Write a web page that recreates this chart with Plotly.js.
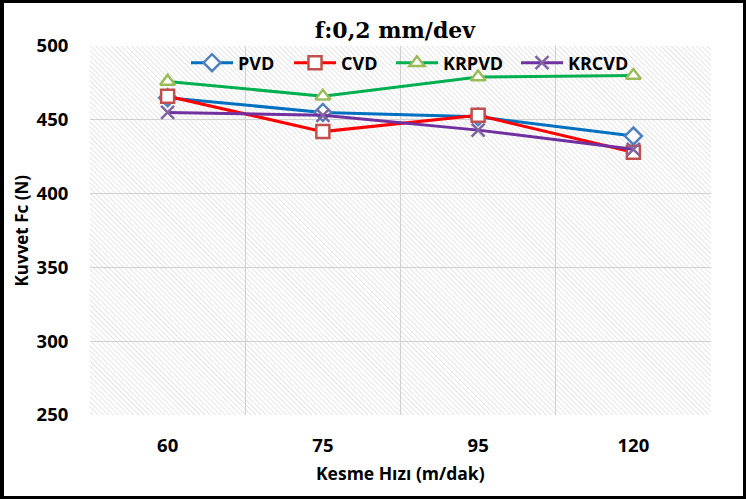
<!DOCTYPE html>
<html>
<head>
<meta charset="utf-8">
<script src="https://cdn.plot.ly/plotly-3.0.1.min.js"></script>
<style>
html,body{margin:0;padding:0;background:#fff;}
#wrap{position:relative;width:746px;height:499px;}
#chart{width:746px;height:499px;}
#frame{position:absolute;left:0;top:0;width:746px;height:499px;box-sizing:border-box;border:3px solid #000;border-left-width:4px;pointer-events:none;}
</style>
</head>
<body>
<div id="wrap"><div id="chart"></div><div id="frame"></div></div>
<script>
const categories = ['60', '75', '95', '120'];
const pvd   = [465, 455, 452, 439];
const cvd   = [466, 442, 453, 428];
const krpvd = [476, 466, 479, 480];
const krcvd = [455, 453, 443, 430];
const yTicks = [250, 300, 350, 400, 450, 500];

const hatchSvg = '<svg xmlns="http://www.w3.org/2000/svg" width="621" height="369" viewBox="0 0 621 369" preserveAspectRatio="none">' +
  '<defs><pattern id="h" patternUnits="userSpaceOnUse" width="3.6" height="3.6" patternTransform="rotate(-45)">' +
  '<line x1="0" y1="0" x2="0" y2="3.6" stroke="#d0d0d0" stroke-width="1.1"/></pattern></defs>' +
  '<rect width="621" height="369" fill="#ffffff"/><rect width="621" height="369" fill="url(#h)"/></svg>';
const hatchUri = 'data:image/svg+xml;charset=utf-8,' + encodeURIComponent(hatchSvg);

const sansFont = '"Open Sans", "Noto Sans", sans-serif';

function series(name, y, lineColor, symbol, markerColor, fillColor, legendId) {
  return {
    x: categories, y: y, name: name, type: 'scatter', mode: 'lines+markers', legend: legendId,
    line: {color: lineColor, width: 3},
    marker: {symbol: symbol, size: 13, color: fillColor, line: {color: markerColor, width: 2.5}}
  };
}

const traces = [
  series('PVD', pvd, '#0070C0', 'diamond', '#4F81BD', '#ffffff', 'legend'),
  series('CVD', cvd, '#FF0000', 'square', '#C0504D', '#ffffff', 'legend2'),
  series('KRPVD', krpvd, '#00B050', 'triangle-up', '#9BBB59', '#ffffff', 'legend3'),
  series('KRCVD', krcvd, '#7030A0', 'x-thin', '#8064A2', '#8064A2', 'legend4')
];

function legendAt(px) {
  return {
    orientation: 'h', x: (px - 90) / 621, xanchor: 'left', y: 0.954, yanchor: 'middle',
    bgcolor: 'rgba(0,0,0,0)', font: {family: sansFont, size: 18, color: '#000', weight: 'bold'},
    itemwidth: 42
  };
}

const layout = {
  width: 746, height: 499,
  margin: {l: 90, r: 35, t: 46, b: 84},
  paper_bgcolor: '#ffffff',
  plot_bgcolor: '#ffffff',
  title: {text: '<b>f:0,2 mm/dev</b>', x: 0.491, xref: 'paper', y: 0.939, yanchor: 'middle',
          font: {family: '"DejaVu Serif", serif', size: 22, color: '#000'}},
  xaxis: {
    type: 'category', tickson: 'boundaries', range: [-0.5, 3.5],
    showgrid: true, gridcolor: '#d0d0d0', gridwidth: 1,
    showline: false, zeroline: false,
    ticks: '', ticklabelstandoff: 17,
    tickfont: {family: sansFont, size: 18.5, color: '#000', weight: 'bold'},
    title: {text: ''}
  },
  yaxis: {
    range: [250, 500], tickvals: yTicks,
    showgrid: true, gridcolor: '#d0d0d0', gridwidth: 1,
    showline: false, zeroline: false,
    ticks: 'outside', ticklen: 17, tickcolor: 'rgba(0,0,0,0)',
    tickfont: {family: sansFont, size: 18.5, color: '#000', weight: 'bold'},
    title: {text: ''}
  },
  annotations: [{
    text: '<b>Kuvvet Fc (N)</b>', xref: 'paper', yref: 'paper', x: 0, xshift: -69, y: 0.5,
    xanchor: 'center', yanchor: 'middle', textangle: -90, showarrow: false,
    font: {family: sansFont, size: 17, color: '#000'}
  }, {
    text: '<b>Kesme Hızı (m/dak)</b>', xref: 'paper', yref: 'paper', x: 0.5, y: 0, yshift: -58,
    xanchor: 'center', yanchor: 'middle', showarrow: false,
    font: {family: sansFont, size: 17.5, color: '#000'}
  }],
  legend: legendAt(186),
  legend2: legendAt(289),
  legend3: legendAt(391),
  legend4: legendAt(516),
  images: [{source: hatchUri, xref: 'paper', yref: 'paper', x: 0, y: 1, sizex: 1, sizey: 1,
            xanchor: 'left', yanchor: 'top', sizing: 'stretch', layer: 'below'}],
  showlegend: true
};

Plotly.newPlot('chart', traces, layout, {displayModeBar: false, staticPlot: true});
</script>
</body>
</html>
